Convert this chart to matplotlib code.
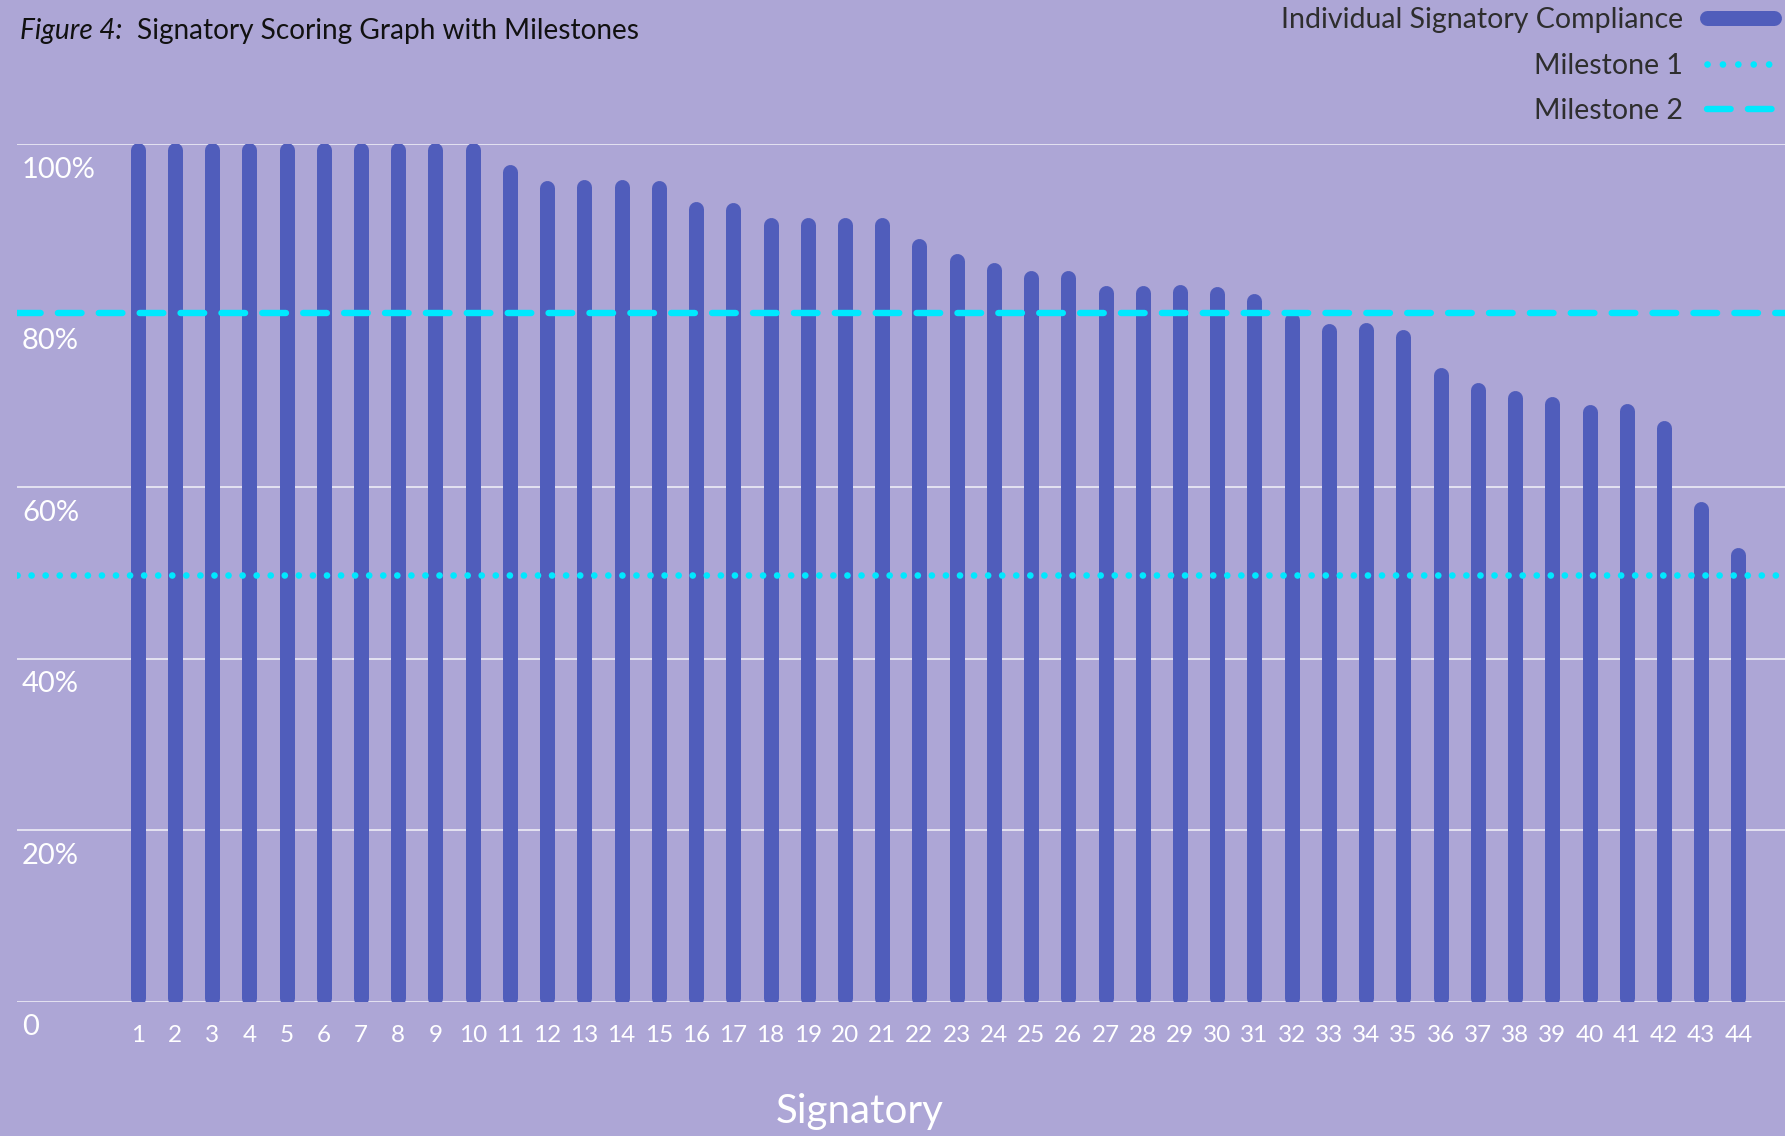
import matplotlib
matplotlib.use("Agg")
import matplotlib.pyplot as plt
from matplotlib.lines import Line2D

# data
signatories = list(range(1, 45))
compliance = [100, 100, 100, 100, 100, 100, 100, 100, 100, 100,
              97.4, 95.6, 95.7, 95.7, 95.5, 93.1, 93.0, 91.2, 91.2, 91.2,
              91.2, 88.8, 87.0, 86.0, 85.0, 85.0, 83.3, 83.3, 83.4, 83.2,
              82.4, 80.2, 78.9, 79.0, 78.2, 73.7, 72.0, 71.1, 70.4, 69.4,
              69.5, 67.6, 58.1, 52.8]
milestone_1 = 49.8
milestone_2 = 80.3
y_ticks = [0, 20, 40, 60, 80, 100]
y_tick_labels = ["0", "20%", "40%", "60%", "80%", "100%"]
legend_labels = ["Individual Signatory Compliance", "Milestone 1", "Milestone 2"]

bg = "#ADA6D6"
bar_color = "#505DBB"
cyan = "#00E8FF"

plt.rcParams["font.family"] = ["Lato", "DejaVu Sans"]

W, H = 1785, 1136
fig = plt.figure(figsize=(W / 100, H / 100), dpi=100, facecolor=bg)
ax = fig.add_axes([17 / W, 134 / H, (W - 17) / W, 857.7 / H])
ax.set_facecolor(bg)
ax.set_xlim(-2.24, 45.25)
ax.set_ylim(0, 100)
for s in ax.spines.values():
    s.set_visible(False)
ax.set_yticks([])

# gridlines; the 80% one is hidden under the milestone 2 line in the original
for v in y_ticks:
    if abs(v - milestone_2) > 1:
        ax.axhline(v, color="white", lw=1.1, alpha=0.85, zorder=1)

ax.set_xticks(signatories)
ax.set_xticklabels([str(s) for s in signatories])
ax.tick_params(axis="x", bottom=False, pad=13, labelsize=17.5, labelcolor="white")

# rounded bars: thick lines with round caps, shortened by the cap radius
px_per_unit = ax.bbox.height / 100
bar_lw_px = 15
r = bar_lw_px / 2
start = (r - 3) / px_per_unit
tops = [v - (r - 2) / px_per_unit for v in compliance]
bars = ax.vlines(signatories, start, tops, colors=bar_color,
                 lw=bar_lw_px * 0.72, zorder=2)
bars.set_capstyle("round")

dot_style = (0, (0.01, 2.1))
dash_style = (0, (3.7, 2.7))
ax.axhline(milestone_1, color=cyan, lw=4.8, linestyle=dot_style,
           dash_capstyle="round", zorder=3)
ax.axhline(milestone_2, color=cyan, lw=4.6, linestyle=dash_style,
           dash_capstyle="round", zorder=3)

# y labels sit inside the plot, just under each gridline
for v, lab in zip(y_ticks, y_tick_labels):
    ax.annotate(lab, xy=(0, v), xycoords=("axes fraction", "data"),
                xytext=(3.6, -24), textcoords="offset points",
                ha="left", va="baseline", fontsize=21, color="white")

fig.text(859.5 / W, 1 - 1111 / H, "Signatory", fontsize=29, color="white",
         ha="center", va="center")

# title
t1 = fig.text(20 / W, 1 - 31.5 / H, "Figure 4:", style="italic", fontsize=20.2,
              color="#111111", va="center")
fig.canvas.draw()
bb = t1.get_window_extent(fig.canvas.get_renderer())
fig.text((bb.x1 + 14) / W, 1 - 31.5 / H, "Signatory Scoring Graph with Milestones",
         fontsize=20.2, color="#111111", va="center")

# legend with handles on the right
handles = [
    Line2D([], [], color=bar_color, lw=bar_lw_px * 0.72, solid_capstyle="round"),
    Line2D([], [], color=cyan, lw=4.8, linestyle=(0, (0.01, 2.3)), dash_capstyle="round"),
    Line2D([], [], color=cyan, lw=4.6, linestyle=dash_style, dash_capstyle="round"),
]
fig.legend(handles, legend_labels, loc="upper right",
           bbox_to_anchor=(1774 / W, 1 - 6.6 / H), frameon=False, markerfirst=False,
           fontsize=20.5, labelcolor="#2E2E2E", handlelength=2.35,
           handletextpad=0.84, labelspacing=0.7, borderpad=0, borderaxespad=0)

fig.savefig("out.png", dpi=100, facecolor=bg)
